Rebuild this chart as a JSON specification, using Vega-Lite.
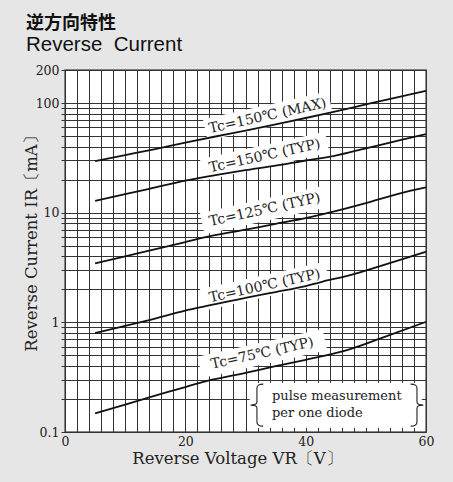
{
  "$schema": "https://vega.github.io/schema/vega-lite/v6.json",
  "width": 361,
  "height": 362,
  "autosize": {"type": "none"},
  "padding": {"left": 65, "top": 70, "right": 27, "bottom": 50},
  "background": "#e6e6e6",
  "config": {
    "view": {"fill": "white", "stroke": "#111", "strokeWidth": 1.3},
    "font": "DejaVu Serif"
  },
  "title": {
    "text": "逆方向特性",
    "subtitle": "Reverse\u00a0 Current",
    "anchor": "start",
    "frame": "group",
    "dx": -39,
    "dy": 5,
    "offset": 14,
    "font": "Noto Sans CJK JP",
    "fontSize": 18,
    "fontWeight": "bold",
    "color": "#111",
    "subtitleFont": "Liberation Sans",
    "subtitleFontSize": 20.5,
    "subtitleColor": "#111",
    "subtitlePadding": 2
  },
  "datasets": {
    "curves": [
      {"series": "150MAX", "v": 5, "i": 29.5}, {"series": "150MAX", "v": 10, "i": 33.5}, {"series": "150MAX", "v": 15, "i": 38}, {"series": "150MAX", "v": 20, "i": 43.5}, {"series": "150MAX", "v": 25, "i": 49.5}, {"series": "150MAX", "v": 30, "i": 56}, {"series": "150MAX", "v": 35, "i": 64}, {"series": "150MAX", "v": 40, "i": 73}, {"series": "150MAX", "v": 45, "i": 84}, {"series": "150MAX", "v": 50, "i": 97}, {"series": "150MAX", "v": 55, "i": 112}, {"series": "150MAX", "v": 60, "i": 129},
      {"series": "150TYP", "v": 5, "i": 12.8}, {"series": "150TYP", "v": 10, "i": 14.8}, {"series": "150TYP", "v": 14, "i": 16.5}, {"series": "150TYP", "v": 20, "i": 19.6}, {"series": "150TYP", "v": 25, "i": 22}, {"series": "150TYP", "v": 30, "i": 24.4}, {"series": "150TYP", "v": 35, "i": 26.8}, {"series": "150TYP", "v": 40, "i": 29.9}, {"series": "150TYP", "v": 44.6, "i": 32.8}, {"series": "150TYP", "v": 50, "i": 38.6}, {"series": "150TYP", "v": 55.7, "i": 45.9}, {"series": "150TYP", "v": 60, "i": 52},
      {"series": "125TYP", "v": 5, "i": 3.45}, {"series": "125TYP", "v": 10, "i": 4.0}, {"series": "125TYP", "v": 14, "i": 4.5}, {"series": "125TYP", "v": 20, "i": 5.4}, {"series": "125TYP", "v": 22.4, "i": 5.83}, {"series": "125TYP", "v": 30, "i": 7.0}, {"series": "125TYP", "v": 35, "i": 7.9}, {"series": "125TYP", "v": 40, "i": 8.9}, {"series": "125TYP", "v": 44.6, "i": 10.2}, {"series": "125TYP", "v": 50, "i": 12.2}, {"series": "125TYP", "v": 55.7, "i": 15}, {"series": "125TYP", "v": 60, "i": 17},
      {"series": "100TYP", "v": 5, "i": 0.8}, {"series": "100TYP", "v": 10, "i": 0.93}, {"series": "100TYP", "v": 14, "i": 1.05}, {"series": "100TYP", "v": 20, "i": 1.28}, {"series": "100TYP", "v": 22.4, "i": 1.37}, {"series": "100TYP", "v": 30, "i": 1.67}, {"series": "100TYP", "v": 35, "i": 1.89}, {"series": "100TYP", "v": 40, "i": 2.14}, {"series": "100TYP", "v": 42.4, "i": 2.32}, {"series": "100TYP", "v": 47.4, "i": 2.7}, {"series": "100TYP", "v": 52.9, "i": 3.33}, {"series": "100TYP", "v": 60, "i": 4.4},
      {"series": "75TYP", "v": 5, "i": 0.148}, {"series": "75TYP", "v": 10, "i": 0.178}, {"series": "75TYP", "v": 14, "i": 0.207}, {"series": "75TYP", "v": 20, "i": 0.257}, {"series": "75TYP", "v": 22.4, "i": 0.281}, {"series": "75TYP", "v": 30, "i": 0.346}, {"series": "75TYP", "v": 35, "i": 0.398}, {"series": "75TYP", "v": 40, "i": 0.455}, {"series": "75TYP", "v": 42.4, "i": 0.486}, {"series": "75TYP", "v": 47.4, "i": 0.571}, {"series": "75TYP", "v": 52.9, "i": 0.73}, {"series": "75TYP", "v": 60, "i": 1.01}
    ],
    "labels": [
      {"text": "Tc=150℃ (MAX)", "v": 33.7, "i": 76},
      {"text": "Tc=150℃ (TYP)", "v": 33.2, "i": 32.8},
      {"text": "Tc=125℃ (TYP)", "v": 33.2, "i": 10.6},
      {"text": "Tc=100℃ (TYP)", "v": 33.2, "i": 2.14},
      {"text": "Tc=75℃ (TYP)", "v": 32.8, "i": 0.519}
    ],
    "notebox": [
      {"v": 30.7, "v2": 59.3, "i": 0.1088, "i2": 0.2797}
    ],
    "notetext": [
      {"text": "pulse measurement", "v": 34.4, "i": 0.213},
      {"text": "per one diode", "v": 34.4, "i": 0.149}
    ],
    "braceL": [{"v": 31.9, "i": 0.176}],
    "braceR": [{"v": 58.5, "i": 0.176}]
  },
  "encoding": {
    "x": {
      "field": "v",
      "type": "quantitative",
      "scale": {"domain": [0, 60], "nice": false, "zero": false},
      "axis": {
        "values": [0, 2, 4, 6, 8, 10, 12, 14, 16, 18, 20, 22, 24, 26, 28, 30, 32, 34, 36, 38, 40, 42, 44, 46, 48, 50, 52, 54, 56, 58, 60],
        "labelExpr": "datum.value % 20 === 0 ? '' + datum.value : ''",
        "labelOverlap": false,
        "labelFlush": false,
        "ticks": false,
        "domain": false,
        "grid": true,
        "gridColor": "#333",
        "gridWidth": 1,
        "gridOpacity": 1,
        "labelFont": "DejaVu Serif",
        "labelFontSize": 12.5,
        "labelColor": "#222",
        "labelPadding": 3,
        "title": "Reverse Voltage VR〔V〕",
        "titleFont": "DejaVu Serif",
        "titleFontSize": 16.5,
        "titleFontWeight": "normal",
        "titleColor": "#222",
        "titlePadding": 3,
        "titleX": 172
      }
    },
    "y": {
      "field": "i",
      "type": "quantitative",
      "scale": {"type": "log", "domain": [0.1, 200], "nice": false},
      "axis": {
        "values": [0.1, 0.2, 0.3, 0.4, 0.5, 0.6, 0.7, 0.8, 0.9, 1, 2, 3, 4, 5, 6, 7, 8, 9, 10, 20, 30, 40, 50, 60, 70, 80, 90, 100, 200],
        "labelExpr": "indexof([0.1, 1, 10, 100, 200], datum.value) >= 0 ? format(datum.value, '~g') : ''",
        "labelOverlap": false,
        "ticks": true,
        "tickSize": 4,
        "tickColor": "#333",
        "domain": false,
        "grid": true,
        "gridColor": "#333",
        "gridWidth": 1,
        "gridOpacity": 1,
        "labelFont": "DejaVu Serif",
        "labelFontSize": 12.5,
        "labelColor": "#222",
        "labelPadding": 2,
        "title": "Reverse Current IR〔mA〕",
        "titleFont": "DejaVu Serif",
        "titleFontSize": 16.5,
        "titleFontWeight": "normal",
        "titleColor": "#222",
        "titleX": -34,
        "titleY": 169,
        "titleAngle": -90,
        "titleAlign": "center",
        "titleBaseline": "middle"
      }
    }
  },
  "layer": [
    {
      "data": {"name": "notebox"},
      "mark": {"type": "rect", "fill": "white", "strokeWidth": 0},
      "encoding": {"x2": {"field": "v2"}, "y2": {"field": "i2"}}
    },
    {
      "data": {"name": "labels"},
      "mark": {"type": "point", "shape": "M-1,-0.17L1,-0.17L1,0.17L-1,0.17Z", "filled": true, "fill": "white", "opacity": 1, "strokeWidth": 0, "size": 16384, "angle": -12.5}
    },
    {
      "data": {"name": "curves"},
      "mark": {"type": "line", "color": "#111", "strokeWidth": 1.8, "interpolate": "monotone"},
      "encoding": {"detail": {"field": "series"}}
    },
    {
      "data": {"name": "labels"},
      "mark": {"type": "text", "font": "DejaVu Serif", "fontSize": 14, "color": "#222", "align": "center", "baseline": "middle", "angle": -12.5},
      "encoding": {"text": {"field": "text"}}
    },
    {
      "data": {"name": "notetext"},
      "mark": {"type": "text", "font": "DejaVu Serif", "fontSize": 13, "color": "#222", "align": "left", "baseline": "middle"},
      "encoding": {"text": {"field": "text"}}
    },
    {
      "data": {"name": "braceL"},
      "mark": {"type": "point", "shape": "M0.3,-1Q0,-1 0,-0.8L0,-0.15Q0,0 -0.3,0Q0,0 0,0.15L0,0.8Q0,1 0.3,1", "filled": false, "stroke": "#222", "strokeWidth": 1.1, "opacity": 1, "size": 1764}
    },
    {
      "data": {"name": "braceR"},
      "mark": {"type": "point", "shape": "M-0.3,-1Q0,-1 0,-0.8L0,-0.15Q0,0 0.3,0Q0,0 0,0.15L0,0.8Q0,1 -0.3,1", "filled": false, "stroke": "#222", "strokeWidth": 1.1, "opacity": 1, "size": 1764}
    }
  ]
}
